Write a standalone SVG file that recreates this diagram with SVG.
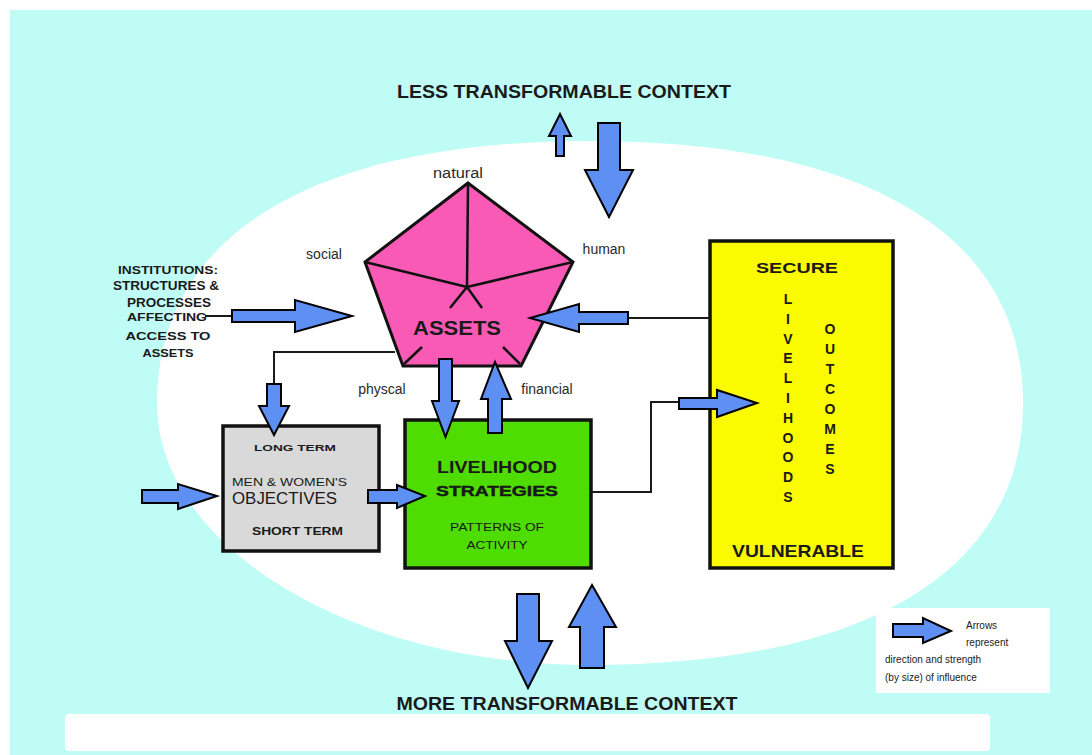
<svg xmlns="http://www.w3.org/2000/svg" width="1092" height="755" viewBox="0 0 1092 755">
<style>
.arr{fill:#5E8FF2;stroke:#000;stroke-width:2;stroke-linejoin:miter}
.ln{fill:none;stroke:#1a1a1a;stroke-width:2}
.box{stroke:#111;stroke-width:3.5}
.t{font-family:"Liberation Sans",Arial,sans-serif;fill:#1a1a1a}
.b{font-weight:bold}
.lab{font-family:"Liberation Sans",Arial,sans-serif;font-size:14px;fill:#2a2a2a}
</style>
<rect x="0" y="0" width="1092" height="755" fill="#ffffff"/>
<rect x="10" y="10" width="1082" height="745" fill="#BFFCF6"/>
<path d="M157,403 C157,235 313,141 590,141 C867,141 1023,235 1023,403 C1023,571 867,665 590,665 C352,665 157,547 157,403 Z" fill="#ffffff"/>
<rect x="65" y="714" width="925" height="37" rx="4" fill="#ffffff"/>

<g id="title-top"><text class="t b" x="564" y="98" font-size="18" text-anchor="middle" textLength="334" lengthAdjust="spacingAndGlyphs">LESS TRANSFORMABLE CONTEXT</text></g>
<g id="title-bottom"><text class="t b" x="567" y="710" font-size="18" text-anchor="middle" textLength="341" lengthAdjust="spacingAndGlyphs">MORE TRANSFORMABLE CONTEXT</text></g>

<g id="institutions">
<text class="t b" x="168" y="274" font-size="11.5" text-anchor="middle" textLength="100" lengthAdjust="spacingAndGlyphs">INSTITUTIONS:</text>
<text class="t b" x="166" y="290" font-size="12" text-anchor="middle" textLength="106" lengthAdjust="spacingAndGlyphs">STRUCTURES &amp;</text>
<text class="t b" x="169" y="307" font-size="13" text-anchor="middle" textLength="84" lengthAdjust="spacingAndGlyphs">PROCESSES</text>
<text class="t b" x="167" y="321" font-size="10.5" text-anchor="middle" textLength="80" lengthAdjust="spacingAndGlyphs">AFFECTING</text>
<text class="t b" x="168" y="340" font-size="11.5" text-anchor="middle" textLength="85" lengthAdjust="spacingAndGlyphs">ACCESS TO</text>
<text class="t b" x="168" y="357" font-size="10" text-anchor="middle" textLength="51" lengthAdjust="spacingAndGlyphs">ASSETS</text>
</g>

<g id="assets">
<polygon points="468,183 573,262 521,366 403,366 365,262" fill="#F95AB5" stroke="#111" stroke-width="3" stroke-linejoin="miter"/>
<path d="M468,183 L467,287 M365,262 L467,287 M573,262 L467,287 M467,287 L450,308 M467,287 L482,308 M422,347 L404,364 M503,347 L520,364" stroke="#111" stroke-width="2.5" fill="none"/>
<text class="t b" x="457" y="335" font-size="20" text-anchor="middle" textLength="88" lengthAdjust="spacingAndGlyphs" fill="#2a1020">ASSETS</text>
<text class="lab" x="458" y="178" text-anchor="middle" textLength="50" lengthAdjust="spacingAndGlyphs">natural</text>
<text class="lab" x="324" y="259" text-anchor="middle">social</text>
<text class="lab" x="604" y="254" text-anchor="middle">human</text>
<text class="lab" x="382" y="394" text-anchor="middle">physcal</text>
<text class="lab" x="547" y="394" text-anchor="middle">financial</text>
</g>

<g id="objectives">
<rect class="box" x="223" y="426" width="156" height="125" fill="#D9D9D9"/>
<text class="t b" x="295" y="451" font-size="9.5" text-anchor="middle" textLength="82" lengthAdjust="spacingAndGlyphs" fill="#333">LONG TERM</text>
<text class="t" x="232" y="486" font-size="11.5" textLength="115" lengthAdjust="spacingAndGlyphs" fill="#444">MEN &amp; WOMEN'S</text>
<text class="t" x="232" y="504" font-size="16" textLength="105" lengthAdjust="spacingAndGlyphs" fill="#333">OBJECTIVES</text>
<text class="t b" x="252" y="535" font-size="10" textLength="91" lengthAdjust="spacingAndGlyphs" fill="#333">SHORT TERM</text>
</g>

<g id="strategies">
<rect class="box" x="405" y="420" width="186" height="148" fill="#4FDC00"/>
<text class="t b" x="497" y="473" font-size="17" text-anchor="middle" textLength="120" lengthAdjust="spacingAndGlyphs" fill="#111">LIVELIHOOD</text>
<text class="t b" x="497" y="496" font-size="15" text-anchor="middle" textLength="122" lengthAdjust="spacingAndGlyphs" fill="#111" stroke="#111" stroke-width="0.4">STRATEGIES</text>
<text class="t" x="497" y="531" font-size="10" text-anchor="middle" textLength="94" lengthAdjust="spacingAndGlyphs" fill="#1a3a00">PATTERNS OF</text>
<text class="t" x="497" y="549" font-size="10" text-anchor="middle" textLength="61" lengthAdjust="spacingAndGlyphs" fill="#1a3a00">ACTIVITY</text>
</g>

<g id="outcomes">
<rect class="box" x="710" y="241" width="183" height="327" fill="#FAFA00"/>
<text class="t b" x="797" y="273" font-size="15" text-anchor="middle" textLength="82" lengthAdjust="spacingAndGlyphs">SECURE</text>
<text class="t b" x="798" y="557" font-size="17" text-anchor="middle" textLength="132" lengthAdjust="spacingAndGlyphs">VULNERABLE</text>
<text class="t b" font-size="14" text-anchor="middle"><tspan x="788" y="304">L</tspan><tspan x="788" dy="19.8">I</tspan><tspan x="788" dy="19.8">V</tspan><tspan x="788" dy="19.8">E</tspan><tspan x="788" dy="19.8">L</tspan><tspan x="788" dy="19.8">I</tspan><tspan x="788" dy="19.8">H</tspan><tspan x="788" dy="19.8">O</tspan><tspan x="788" dy="19.8">O</tspan><tspan x="788" dy="19.8">D</tspan><tspan x="788" dy="19.8">S</tspan></text>
<text class="t b" font-size="14" text-anchor="middle"><tspan x="830" y="334">O</tspan><tspan x="830" dy="20">U</tspan><tspan x="830" dy="20">T</tspan><tspan x="830" dy="20">C</tspan><tspan x="830" dy="20">O</tspan><tspan x="830" dy="20">M</tspan><tspan x="830" dy="20">E</tspan><tspan x="830" dy="20">S</tspan></text>
</g>

<g id="legend">
<rect x="876" y="608" width="174" height="85" fill="#ffffff"/>
<polygon class="arr" points="893,624 923,624 923,618 951,631 923,643 923,637 893,637"/>
<text class="t" x="966" y="629" font-size="10" fill="#333">Arrows</text>
<text class="t" x="966" y="646" font-size="10" fill="#333">represent</text>
<text class="t" x="885" y="663" font-size="10" fill="#333">direction and strength</text>
<text class="t" x="885" y="681" font-size="10" fill="#333">(by size) of influence</text>
</g>

<g id="connectors">
<polyline class="ln" points="205,316 232,316"/>
<polygon class="arr" points="232,310 295,310 295,300 352,316 295,332 295,322 232,322"/>
<polyline class="ln" points="710,318 628,318"/>
<polygon class="arr" points="628,312 579,312 579,304 530,318 579,332 579,324 628,324"/>
<polygon class="arr" points="439,359 452,359 452,401 459,401 445.5,437 432,401 439,401"/>
<polygon class="arr" points="495,362 511,399 502,399 502,433 488,433 488,399 481,399"/>
<polyline class="ln" points="395,352 274,352 274,384"/>
<polygon class="arr" points="267,384 281,384 281,406 289,406 274,435 259,406 267,406"/>
<polygon class="arr" points="142,490 178,490 178,484 217,496 178,509 178,503 142,503"/>
<polygon class="arr" points="368,490 397,490 397,485 425,496 397,508 397,503 368,503"/>
<polyline class="ln" points="591,492 651,492 651,402 679,402" stroke-width="1.5"/>
<polygon class="arr" points="679,398 717,398 717,390 757,403 717,417 717,409 679,409"/>
<polygon class="arr" points="560,114 571,136 564,136 564,156 556,156 556,136 549,136"/>
<polygon class="arr" points="598,123 620,123 620,170 633,170 609,217 585,170 598,170"/>
<polygon class="arr" points="517,594 539,594 539,641 552,641 528,688 505,641 517,641"/>
<polygon class="arr" points="592,585 616,627 604,627 604,668 580,668 580,627 569,627"/>
</g>
</svg>
